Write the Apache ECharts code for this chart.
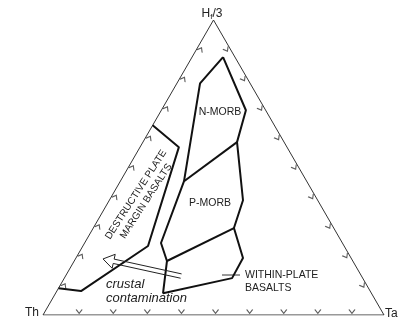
<!DOCTYPE html>
<html>
<head>
<meta charset="utf-8">
<style>
  html, body { margin: 0; padding: 0; background: #fff; }
  #chart { width: 401px; height: 320px; }
</style>
<script src="https://cdn.jsdelivr.net/npm/echarts@6/dist/echarts.min.js"></script>
</head>
<body>
<div id="chart"></div>
<script>
// ternary points are [Hf/3, Th, Ta] in percent
var triangleVertices = [[100, 0, 0], [0, 100, 0], [0, 0, 100], [100, 0, 0]];
var tickValues = [10, 20, 30, 40, 50, 60, 70, 80, 90];

// destructive plate margin basalts boundary (open, edge to edge)
var dpmbBoundary = [[64.3, 35.7, 0], [56.9, 31.7, 11.4], [23.4, 57.5, 19.1], [8.1, 84.8, 7.1], [9.1, 90.9, 0]];
// outline of the MORB + within-plate fields
var morbOutline = [
    [87.4, 3.5, 9.1], [78.6, 14.7, 6.8], [45.4, 36.0, 18.7], [24.4, 53.2, 22.4],
    [18.3, 54.5, 27.2], [7.4, 61.1, 31.5], [12.5, 38.3, 49.2], [19.3, 31.7, 49.0],
    [29.5, 29.3, 41.3], [38.9, 21.9, 39.2], [58.6, 13.8, 27.6], [69.4, 5.8, 24.8],
    [87.4, 3.5, 9.1]
];
var nmorbPmorbLine = [[45.4, 36.0, 18.7], [58.6, 13.8, 27.6]];
var pmorbWpbLine = [[18.3, 54.5, 27.2], [29.5, 29.3, 41.3]];
// crustal contamination arrow: tail, tip
var contaminationArrow = [[13.2, 52.9, 33.9], [19.0, 72.9, 8.1]];

var S3 = Math.sqrt(3) / 2;

// ternary -> x/y of the hidden cartesian axes
function tern(p) {
    var sum = p[0] + p[1] + p[2];
    var h = p[0] / sum, ta = p[2] / sum;
    return [ta + h / 2, h * S3];
}

function hollowArrow(tail, tip) {
    var a = tern(tail), b = tern(tip);
    var dx = b[0] - a[0], dy = b[1] - a[1];
    var len = Math.sqrt(dx * dx + dy * dy);
    var ux = dx / len, uy = dy / len, nx = -uy, ny = ux;
    var w = 0.0065, hw = 0.021, hl = 0.032;
    var bx = b[0] - ux * hl, by = b[1] - uy * hl;
    return [
        [a[0] + nx * w, a[1] + ny * w],
        [bx + nx * w, by + ny * w],
        [bx + nx * hw, by + ny * hw],
        [b[0], b[1]],
        [bx - nx * hw, by - ny * hw],
        [bx - nx * w, by - ny * w],
        [a[0] - nx * w, a[1] - ny * w]
    ];
}

function boundary(pts, width) {
    return {
        type: 'line', data: pts.map(tern), symbol: 'none',
        lineStyle: { color: '#111', width: width }, silent: true
    };
}

function ticks(pts, rot) {
    return {
        type: 'scatter', data: pts.map(tern),
        symbol: 'path://M0,6 L5,0 L10,6', symbolSize: [6, 4], symbolRotate: rot,
        itemStyle: { color: 'transparent', borderColor: '#333', borderWidth: 1 },
        silent: true
    };
}

var leftTicks = tickValues.map(function (k) { return [k, 98.8 - k, 1.2]; });
var rightTicks = tickValues.map(function (k) { return [k, 1.2, 98.8 - k]; });
var baseTicks = tickValues.map(function (k) { return [1.2, 98.8 - k, k]; });

var font = '"Liberation Sans", Arial, sans-serif';

var myChart = echarts.init(document.getElementById('chart'));
var option = {
    backgroundColor: '#fff',
    animation: false,
    grid: { left: 43, top: 20, width: 341, height: 295 },
    xAxis: { type: 'value', min: 0, max: 1, show: false },
    yAxis: { type: 'value', min: 0, max: S3, show: false },
    series: [
        {
            type: 'line', data: triangleVertices.map(tern), symbol: 'none',
            lineStyle: { color: '#333', width: 1 }, silent: true
        },
        boundary(dpmbBoundary, 2),
        boundary(morbOutline, 2),
        boundary(nmorbPmorbLine, 2),
        boundary(pmorbWpbLine, 2),
        {
            type: 'line', data: hollowArrow(contaminationArrow[0], contaminationArrow[1]),
            symbol: 'none', lineStyle: { color: '#222', width: 1 }, silent: true
        },
        ticks(leftTicks, -30),
        ticks(rightTicks, -150),
        ticks(baseTicks, 180)
    ],
    graphic: [
        {
            type: 'text', x: 212, y: 14,
            style: {
                text: 'H{s|f}/3', font: '12px ' + font, fill: '#222',
                align: 'center', verticalAlign: 'middle',
                rich: { s: { fontSize: 8, verticalAlign: 'bottom', padding: [6, 0, 0, 0] } }
            }
        },
        { type: 'text', x: 39, y: 313, style: { text: 'Th', font: '12px ' + font, fill: '#222', align: 'right', verticalAlign: 'middle' } },
        { type: 'text', x: 385, y: 314, style: { text: 'Ta', font: '12px ' + font, fill: '#222', align: 'left', verticalAlign: 'middle' } },
        { type: 'text', x: 220, y: 112, style: { text: 'N-MORB', font: '10.5px ' + font, fill: '#222', align: 'center', verticalAlign: 'middle' } },
        { type: 'text', x: 210, y: 203, style: { text: 'P-MORB', font: '10.5px ' + font, fill: '#222', align: 'center', verticalAlign: 'middle' } },
        {
            type: 'text', x: 245, y: 282,
            style: { text: 'WITHIN-PLATE\nBASALTS', font: '10.5px ' + font, lineHeight: 13, fill: '#222', align: 'left', verticalAlign: 'middle' }
        },
        { type: 'line', shape: { x1: 222, y1: 275, x2: 240, y2: 275 }, style: { stroke: '#333', lineWidth: 1 } },
        {
            type: 'text', x: 141, y: 198, rotation: 57 * Math.PI / 180,
            style: { text: 'DESTRUCTIVE PLATE\nMARGIN BASALTS', font: '10px ' + font, lineHeight: 12, fill: '#222', align: 'center', verticalAlign: 'middle' }
        },
        {
            type: 'text', x: 106, y: 291,
            style: { text: 'crustal\ncontamination', font: 'italic 13px ' + font, lineHeight: 14, fill: '#222', align: 'left', verticalAlign: 'middle' }
        }
    ]
};
myChart.setOption(option);
</script>
</body>
</html>
